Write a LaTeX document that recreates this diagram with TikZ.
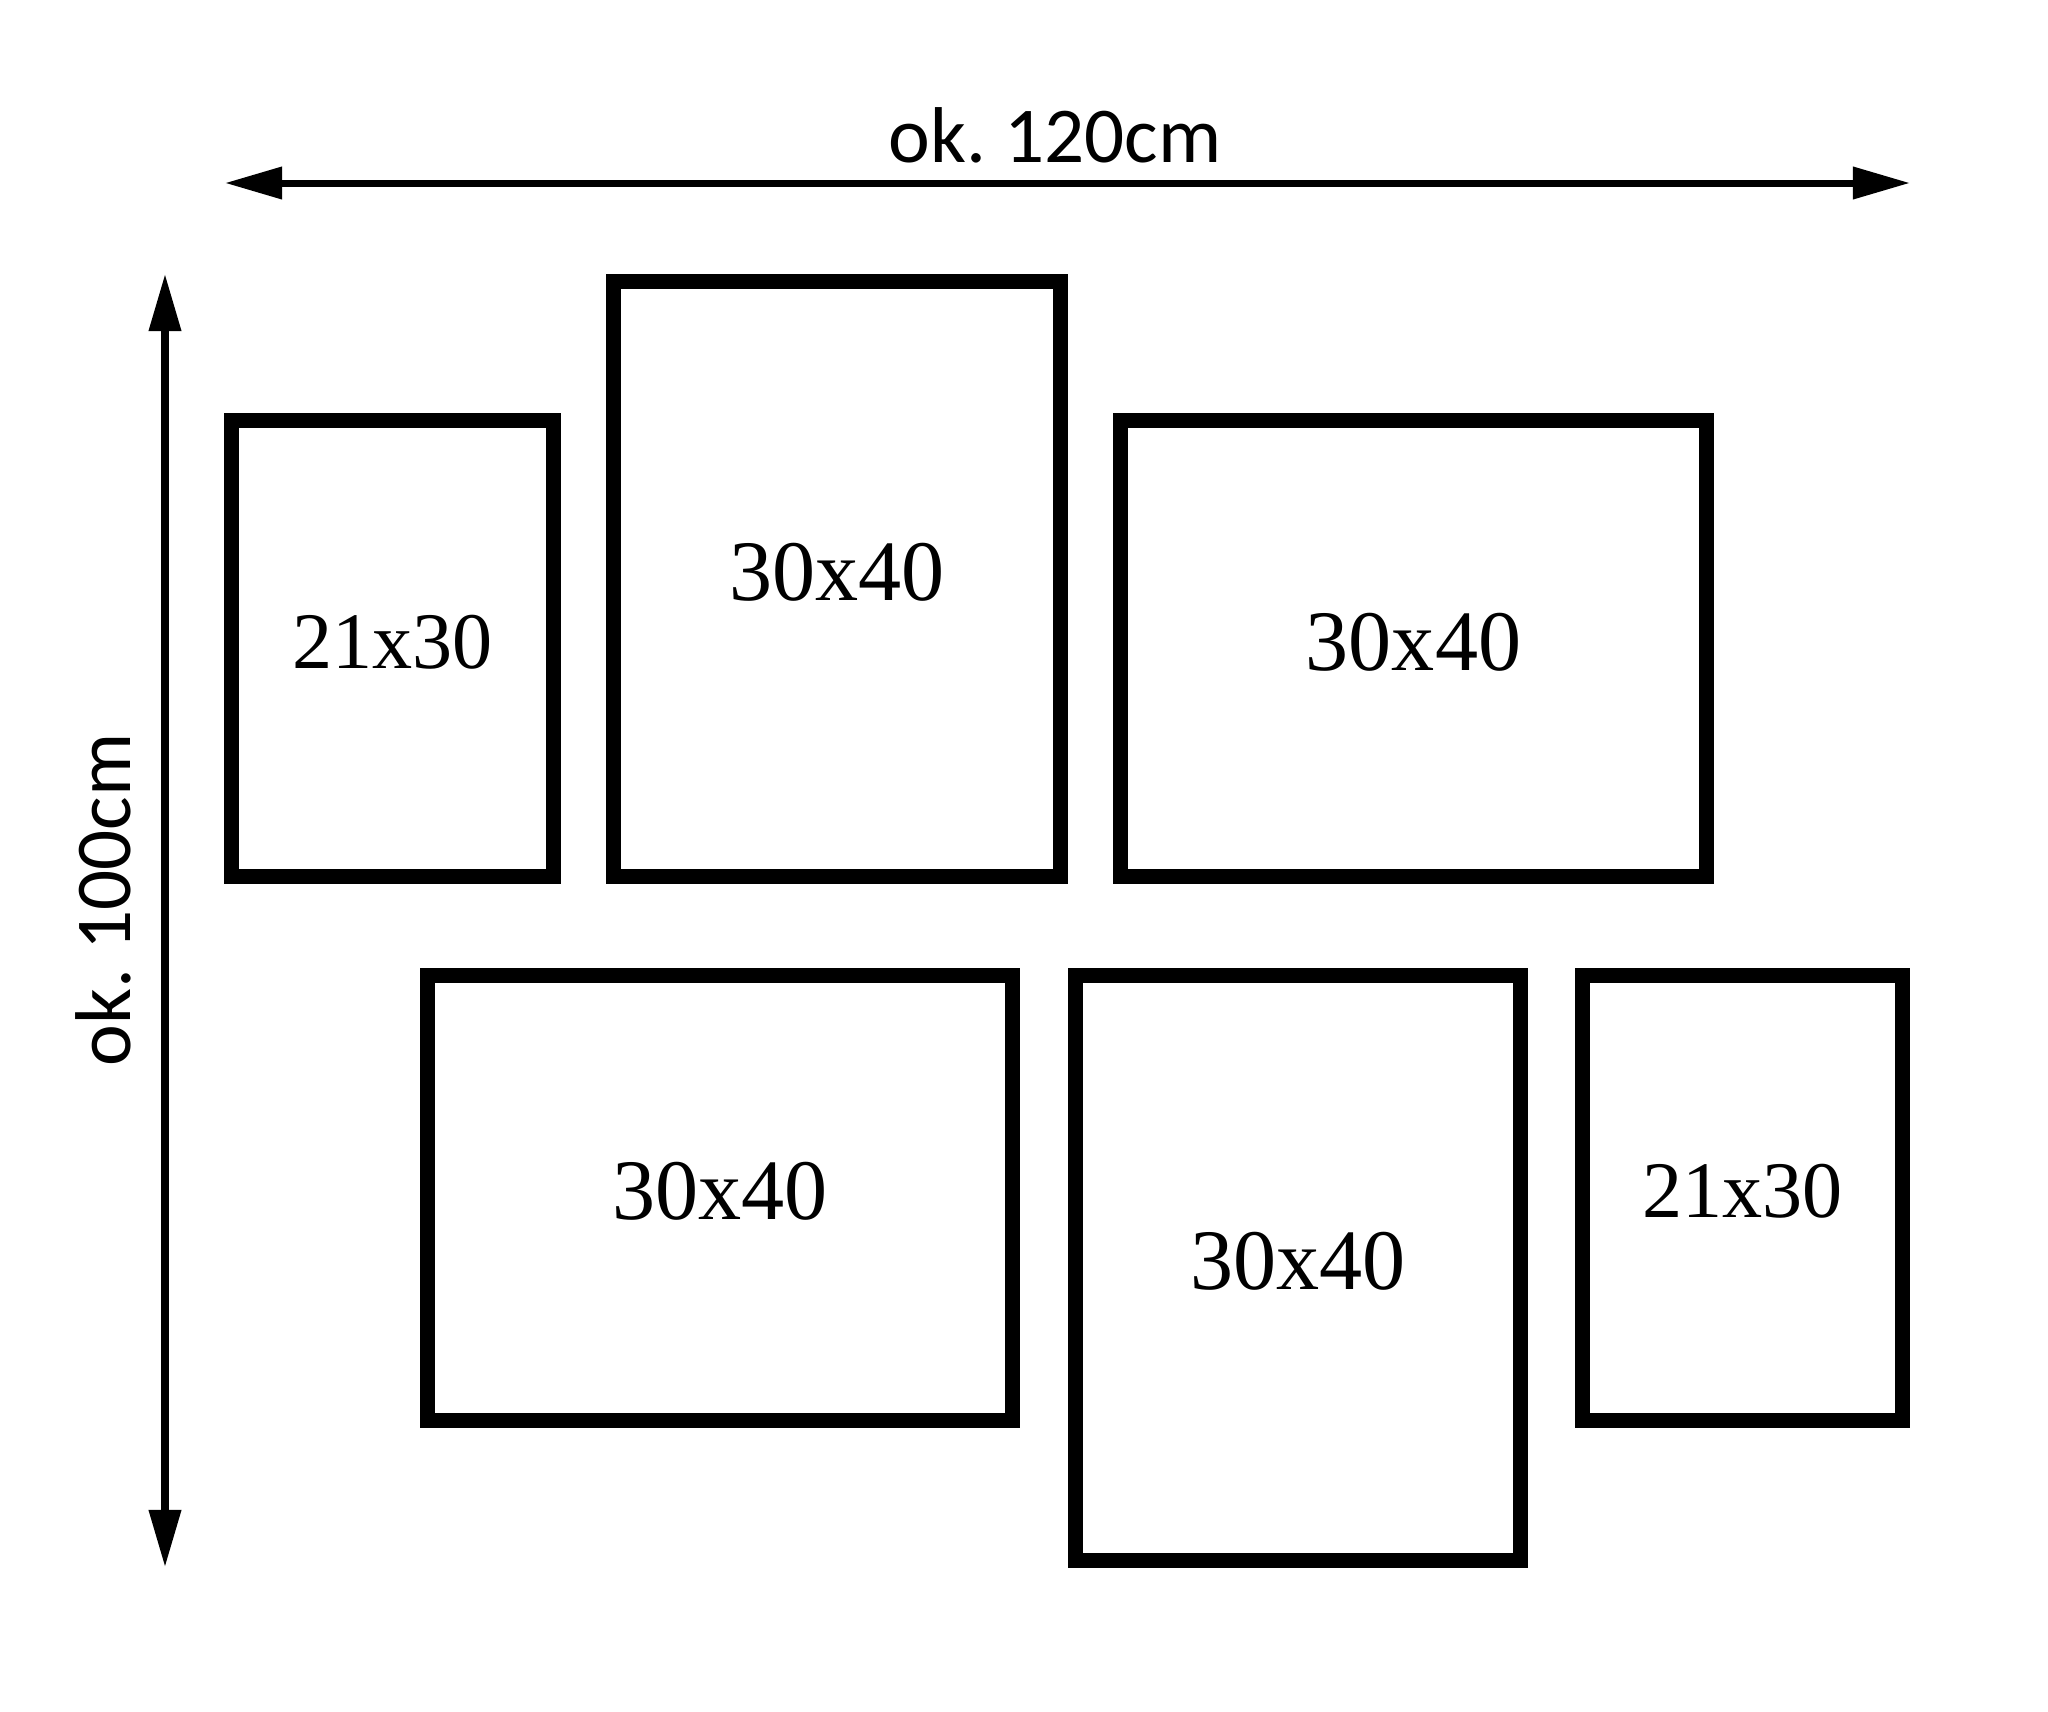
\documentclass[tikz,border=0pt]{standalone}
\usepackage{fontspec}
\setmainfont{Liberation Serif}
\newfontfamily\dimfont{Carlito}
\usetikzlibrary{arrows.meta}

\tikzset{
  frame/.style={rectangle, draw, line width=1.5mm, inner sep=0pt, text depth=1.4mm},
  smallsize/.style={font=\fontsize{22.8}{27}\selectfont},
  bigsize/.style={font=\fontsize{24.5}{29}\selectfont},
  dimline/.style={{Triangle[length=5.7mm,width=3.1mm]}-{Triangle[length=5.7mm,width=3.1mm]}, line width=0.7mm},
  dimlabel/.style={font=\dimfont\fontsize{22.5}{27}\selectfont, inner sep=0pt}
}

\begin{document}
\begin{tikzpicture}[x=0.01cm, y=-0.01cm]
  \fill[white] (0,0) rectangle (2048,1712);
  \useasboundingbox (0,0) rectangle (2048,1712);

  % overall dimensions
  \coordinate (wleft) at (225,183);
  \coordinate (wright) at (1910,183);
  \coordinate (htop) at (165,274);
  \coordinate (hbottom) at (165,1567);
  \draw[dimline] (wleft) -- (wright);
  \draw[dimline] (htop) -- (hbottom);
  \node[dimlabel] (width) at (1055,135) {ok.\ 120cm};
  \node[dimlabel, rotate=90] (height) at (103,900) {ok.\ 100cm};

  % top row
  \node[frame, smallsize, minimum width=3.22cm, minimum height=4.56cm] (topleft) at (392.5,648.5) {21x30};
  \node[frame, bigsize, minimum width=4.47cm, minimum height=5.95cm] (topmid) at (837,579) {30x40};
  \node[frame, bigsize, minimum width=5.86cm, minimum height=4.56cm] (topright) at (1413.5,648.5) {30x40};

  % bottom row
  \node[frame, bigsize, minimum width=5.85cm, minimum height=4.45cm] (botleft) at (720,1198) {30x40};
  \node[frame, bigsize, minimum width=4.45cm, minimum height=5.85cm] (botmid) at (1298,1268) {30x40};
  \node[frame, smallsize, minimum width=3.20cm, minimum height=4.45cm] (botright) at (1742.5,1198) {21x30};
\end{tikzpicture}
\end{document}
